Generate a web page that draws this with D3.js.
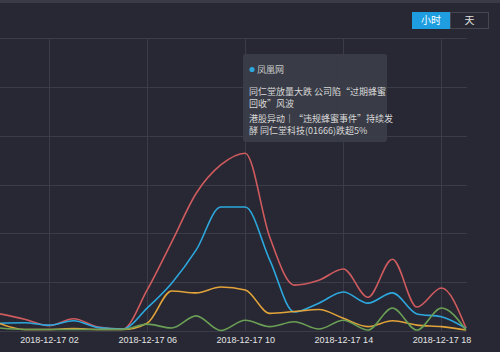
<!DOCTYPE html>
<html>
<head>
<meta charset="utf-8">
<script src="https://cdn.jsdelivr.net/npm/d3@7"></script>
<style>
  html, body { margin: 0; padding: 0; background: #272833; }
  svg { display: block; }
</style>
</head>
<body>
<div id="chart"></div>
<script>
// hourly categories
var hours = ["00","01","02","03","04","05","06","07","08","09","10","11","12","13","14","15","16","17","18","19"];
var tick_hours = ["02","06","10","14","18"];
var y_ticks = [10, 20, 30, 40, 50, 60];

// series values
var red_values    = [3.5, 2.4, 1.1, 2.5, 0.8, 0.4, 8.4, 18.2, 28.2, 34.0, 36.4, 19.2, 9.4, 10.4, 12.7, 6.9, 14.7, 4.9, 8.8, 0.6];
var blue_values   = [1.6, 1.7, 1.2, 2.1, 0.7, 0.4, 4.7, 9.8, 16.6, 25.4, 25.4, 14.5, 3.9, 5.7, 8.0, 5.7, 7.8, 3.5, 2.9, 0.5];
var orange_values = [1.5, 0.3, 0.3, 0.5, 0.3, 0.3, 1.6, 8.2, 7.8, 9.0, 8.4, 3.6, 4.0, 4.4, 2.6, 0.9, 2.1, 1.2, 0.9, 0.2];
var green_values  = [0.6, 0.3, 0.3, 0.3, 0.3, 0.3, 1.4, 0.6, 3.1, 0.1, 2.2, 0.9, 1.9, 0.4, 2.2, 0.2, 4.7, 0.2, 4.7, 0.2];

var series = [
  { name: "red",    color: "#cf5b5e", values: red_values },
  { name: "blue",   color: "#2da8df", values: blue_values },
  { name: "orange", color: "#e2a43a", values: orange_values },
  { name: "green",  color: "#6b9f55", values: green_values }
];

var tip_source = "凤凰网";
var tip_lines = [
  ["同仁堂放量大跌 公司陷“过期蜂蜜", "回收”风波"],
  ["港股异动｜“违规蜂蜜事件”持续发", "酵 同仁堂科技(01666)跌超5%"]
];

var width = 500, height = 352;
var svg = d3.select("#chart").append("svg")
    .attr("width", width)
    .attr("height", height);

svg.append("rect").attr("width", width).attr("height", height).attr("fill", "#272833");
svg.append("rect").attr("width", width).attr("height", 3).attr("fill", "#3a3b46");

var x = d3.scalePoint().domain(hours).range([0, 466]);
var y = d3.scaleLinear().domain([0, 60]).range([331, 38]);

// grid
var grid = svg.append("g").attr("stroke", "#3a3c48").attr("stroke-width", 1);
grid.selectAll("line.h")
    .data([0].concat(y_ticks))
    .enter().append("line")
    .attr("x1", 0).attr("x2", 467)
    .attr("y1", function (d) { return Math.round(y(d)) + 0.5; })
    .attr("y2", function (d) { return Math.round(y(d)) + 0.5; });
grid.selectAll("line.v")
    .data(tick_hours)
    .enter().append("line")
    .attr("y1", y(60)).attr("y2", y(0))
    .attr("x1", function (d) { return Math.round(x(d)) + 0.5; })
    .attr("x2", function (d) { return Math.round(x(d)) + 0.5; });

// x axis labels
var xAxis = d3.axisBottom(x)
    .tickValues(tick_hours)
    .tickSize(0)
    .tickPadding(6)
    .tickFormat(function (d) { return "2018-12-17 " + d; });
var ax = svg.append("g").attr("transform", "translate(0," + y(0) + ")").call(xAxis);
ax.select(".domain").remove();
ax.selectAll("text")
    .attr("fill", "#e4e4e4")
    .style("font-family", "'Liberation Sans', Arial, sans-serif")
    .style("font-size", "9px");

// lines
var line = d3.line()
    .x(function (d, i) { return x(hours[i]); })
    .y(function (d) { return y(d); })
    .curve(d3.curveMonotoneX);

svg.selectAll("path.series")
    .data(series)
    .enter().append("path")
    .attr("class", "series")
    .attr("fill", "none")
    .attr("stroke", function (d) { return d.color; })
    .attr("stroke-width", 1.6)
    .attr("d", function (d) { return line(d.values); });

// toggle buttons
var btn = svg.append("g").style("font-family", "'Noto Sans CJK SC', sans-serif").style("font-size", "10px");
btn.append("rect").attr("x", 450.5).attr("y", 12.5).attr("width", 38).attr("height", 16)
    .attr("fill", "none").attr("stroke", "#45474f");
btn.append("rect").attr("x", 412).attr("y", 12).attr("width", 38).attr("height", 17)
    .attr("fill", "#1e9ee0");
btn.append("text").attr("x", 431).attr("y", 24).attr("text-anchor", "middle")
    .attr("fill", "#ffffff").text("小时");
btn.append("text").attr("x", 469.5).attr("y", 24).attr("text-anchor", "middle")
    .attr("fill", "#e0e0e0").text("天");

// tooltip
var tip = svg.append("g").style("font-family", "'Noto Sans CJK SC', sans-serif").style("font-size", "9px");
tip.append("rect").attr("x", 243).attr("y", 54).attr("width", 144).attr("height", 88).attr("rx", 3)
    .attr("fill", "#3b3e48").attr("fill-opacity", 0.92);
tip.append("circle").attr("cx", 252).attr("cy", 69.5).attr("r", 2.6).attr("fill", "#2da8df");
tip.append("text").attr("x", 257).attr("y", 73).attr("fill", "#c8c8c8").text(tip_source);
tip_lines.forEach(function (para, p) {
  para.forEach(function (t, k) {
    tip.append("text")
        .attr("x", 249)
        .attr("y", 95 + p * 27 + k * 12)
        .attr("fill", "#d8d8d8")
        .text(t);
  });
});
</script>
</body>
</html>
